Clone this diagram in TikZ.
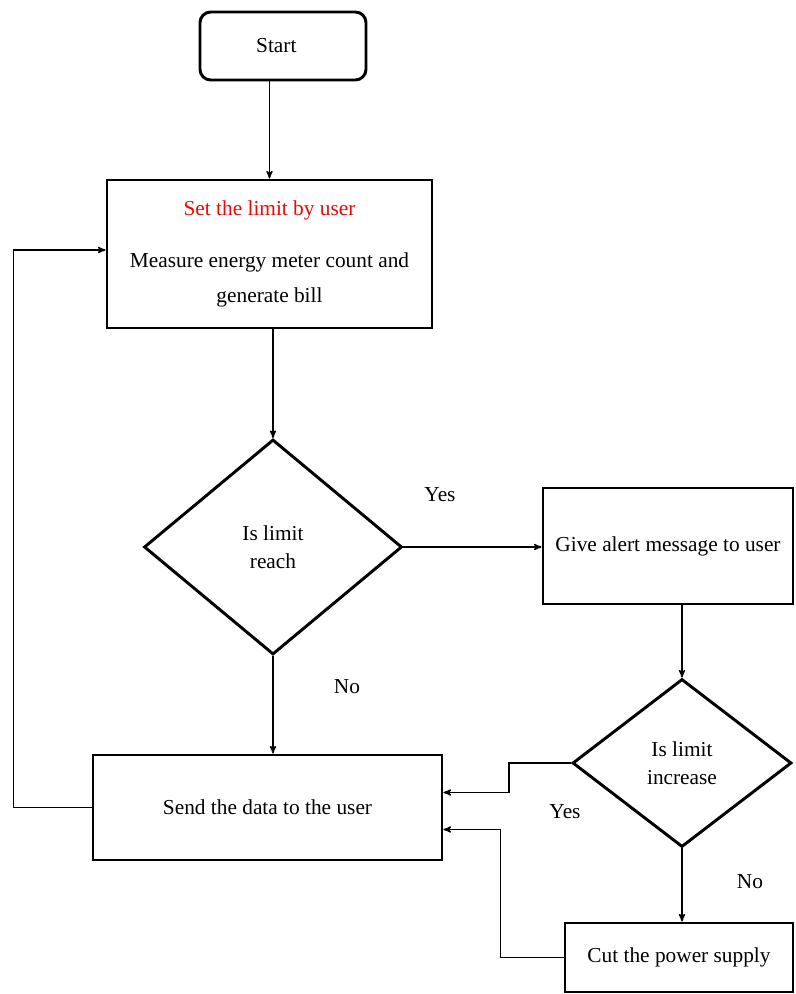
\documentclass[tikz,border=0pt]{standalone}
\usepackage{fontspec}
\setmainfont{Liberation Serif}
\usetikzlibrary{arrows, shapes.geometric}

\begin{document}
\begin{tikzpicture}[-,>=stealth',x=0.75pt,y=-0.75pt,line width=1pt,
  main node/.style={rectangle,draw,line width=2.2pt,align=center,inner sep=0pt,font=\fontsize{16}{19}\selectfont},
  decision node/.style={diamond,draw,line width=2.2pt,align=center,inner sep=0pt,font=\fontsize{16}{21}\selectfont},
  text node/.style={font=\fontsize{16}{19}\selectfont}]

	\useasboundingbox (0,0) rectangle (795,994);

	\node[main node, rounded corners=8pt, minimum width=124.5pt, minimum height=51pt] (1) at (283,46) {Start\hspace*{10pt}};
    \node[main node, minimum width=243.75pt, minimum height=111pt] (2) at (269.5,254) {{\color{red}Set the limit by user}\\[20pt]Measure energy meter count and\\[7pt]generate bill};
    \node[decision node, minimum width=193.5pt, minimum height=161.25pt] (3) at (273,547) {Is limit\\reach};
    \node[main node, minimum width=187.5pt, minimum height=87pt] (4) at (668,546) {Give alert message to user};
    \node[decision node, minimum width=164.25pt, minimum height=126pt] (5) at (682,763) {Is limit\\increase};
    \node[main node, minimum width=261.75pt, minimum height=78.75pt] (6) at (267.5,807.5) {Send the data to the user};
    \node[main node, minimum width=171pt, minimum height=51.75pt] (7) at (679,957.5) {Cut the power supply};

    \node[text node] (y1) at (440,495) {Yes};
    \node[text node] (n1) at (347,687) {No};
    \node[text node] (y2) at (565,812) {Yes};
    \node[text node] (n2) at (750,882) {No};

    \path (1.south -| 2.north) edge [->] (2.north);
    \path (2.south -| 3.north) edge [->] (3.north);
    \path (3.east) edge [->] (3.east -| 4.west);
    \path (3.south) edge [->] (3.south |- 6.north);
    \path (4.south -| 5.north) edge [->] (5.north);
    \path (5.south) edge [->] (5.south |- 7.north);
    \draw[->] (5.west) -- ++(-62,0) |- ([shift={(0,-15)}]6.east);
    \draw[->] (7.west) -- ++(-63,0) |- ([shift={(0,22)}]6.east);
    \draw[->] (6.west) -- ++(-78,0) |- ([shift={(0,-4)}]2.west);

\end{tikzpicture}
\end{document}
